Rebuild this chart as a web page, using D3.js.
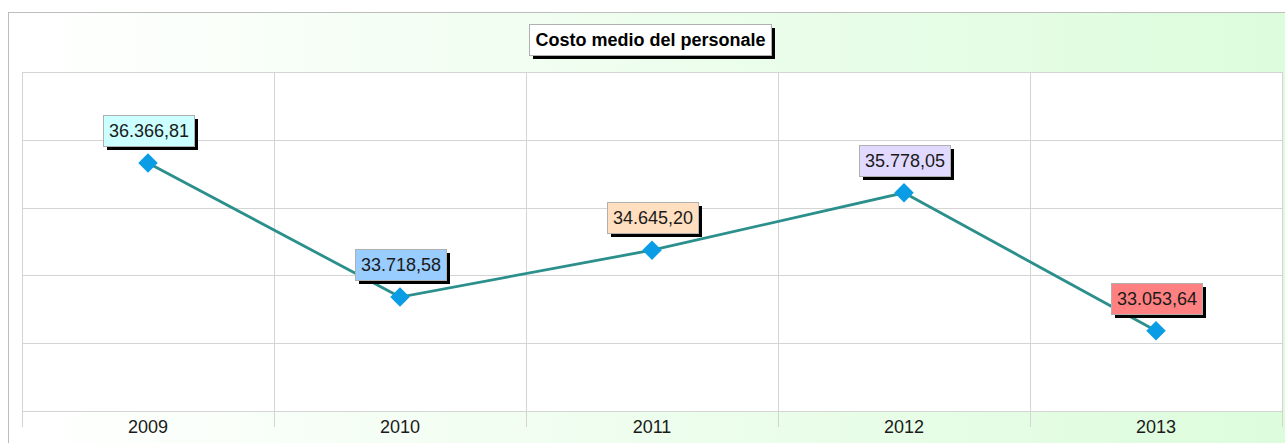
<!DOCTYPE html>
<html>
<head>
<meta charset="utf-8">
<script src="https://cdn.jsdelivr.net/npm/d3@7"></script>
<style>
  html, body { margin: 0; padding: 0; background: #fff; }
  svg { display: block; font-family: Arial, "Liberation Sans", sans-serif; }
</style>
</head>
<body>
<svg id="chart_svg" width="1285" height="443"></svg>
<script>
// chart data
const title = 'Costo medio del personale';
const years = ['2009', '2010', '2011', '2012', '2013'];
const costs = [36366.81, 33718.58, 34645.20, 35778.05, 33053.64];
const value_labels = ['36.366,81', '33.718,58', '34.645,20', '35.778,05', '33.053,64'];
const label_colors = ['#ccffff', '#99ccff', '#ffdfc0', '#e2d9ff', '#ff8080'];
const y_domain = [31466, 38166];

const width = 1285;
const height = 443;

/**
 * Plot area
 */
const plot = { left: 22, right: 1282, top: 72, bottom: 411 };

let svg = d3.select('#chart_svg');

let defs = svg.append('defs');
let grad = defs.append('linearGradient')
  .attr('id', 'bg_grad')
  .attr('x1', '0%').attr('x2', '100%')
  .attr('y1', '0%').attr('y2', '0%');
grad.append('stop').attr('offset', '0%').attr('stop-color', '#ffffff');
grad.append('stop').attr('offset', '100%').attr('stop-color', '#dcfcdc');

// outer background + border
svg.append('rect')
  .attr('x', 8.5).attr('y', 12.5)
  .attr('width', width + 10).attr('height', height)
  .attr('fill', 'url(#bg_grad)')
  .attr('stroke', '#bdbdbd');

/**
 * Scales
 */
const xScale = d3.scaleBand()
  .domain(years)
  .range([plot.left, plot.right]);

const yScale = d3.scaleLinear()
  .domain(y_domain)
  .range([plot.bottom, plot.top]);

// plot background
svg.append('rect')
  .attr('x', plot.left + 0.5).attr('y', plot.top + 0.5)
  .attr('width', plot.right - plot.left).attr('height', plot.bottom - plot.top)
  .attr('fill', '#ffffff')
  .attr('stroke', '#cccccc');

/**
 * Grid lines
 */
let grid_vals = d3.range(6).map((i) => y_domain[0] + i * (y_domain[1] - y_domain[0]) / 5);

svg.append('g')
  .selectAll('line')
  .data(grid_vals)
  .enter()
  .append('line')
  .attr('x1', plot.left)
  .attr('x2', plot.right)
  .attr('y1', (d) => Math.round(yScale(d)) + 0.5)
  .attr('y2', (d) => Math.round(yScale(d)) + 0.5)
  .attr('stroke', '#d4d4d4');

let band_edges = years.map((d) => xScale(d)).concat([plot.right]);

svg.append('g')
  .selectAll('line')
  .data(band_edges)
  .enter()
  .append('line')
  .attr('x1', (d) => Math.round(d) + 0.5)
  .attr('x2', (d) => Math.round(d) + 0.5)
  .attr('y1', plot.top)
  .attr('y2', plot.bottom + 16)
  .attr('stroke', '#d4d4d4');

/**
 * x labels
 */
svg.append('g')
  .selectAll('text')
  .data(years)
  .enter()
  .append('text')
  .attr('x', (d) => xScale(d) + xScale.bandwidth() / 2)
  .attr('y', 433)
  .attr('text-anchor', 'middle')
  .attr('font-size', 18)
  .attr('fill', '#1a1a1a')
  .text((d) => d);

/**
 * Line + markers
 */
const points = years.map((d, i) => ({
  year: d,
  value: costs[i],
  label: value_labels[i],
  color: label_colors[i],
  x: xScale(d) + xScale.bandwidth() / 2,
  y: yScale(costs[i]),
}));

let line = d3.line()
  .x((d) => d.x)
  .y((d) => d.y);

svg.append('path')
  .datum(points)
  .attr('d', line)
  .attr('fill', 'none')
  .attr('stroke', '#2b8f8c')
  .attr('stroke-width', 2.8);

svg.append('g')
  .selectAll('path')
  .data(points)
  .enter()
  .append('path')
  .attr('d', d3.symbol(d3.symbolSquare, 190))
  .attr('transform', (d) => `translate(${d.x},${d.y}) rotate(45)`)
  .attr('fill', '#0a9de6');

/**
 * Value labels
 */
const box_w = 91;
const box_h = 31;

let label_g = svg.append('g')
  .selectAll('g')
  .data(points)
  .enter()
  .append('g')
  .attr('transform', (d) => `translate(${Math.round(d.x - box_w / 2)},${Math.round(d.y - 48)})`);

label_g.append('rect')
  .attr('x', 4).attr('y', 4)
  .attr('width', box_w).attr('height', box_h)
  .attr('fill', '#000');

label_g.append('rect')
  .attr('x', 0.5).attr('y', 0.5)
  .attr('width', box_w).attr('height', box_h)
  .attr('fill', (d) => d.color)
  .attr('stroke', '#b0b0b0');

label_g.append('text')
  .attr('x', box_w / 2 + 0.5)
  .attr('y', 22)
  .attr('text-anchor', 'middle')
  .attr('font-size', 18)
  .attr('fill', '#1a1a1a')
  .text((d) => d.label);

/**
 * Title
 */
let title_g = svg.append('g').attr('transform', 'translate(529,24)');

title_g.append('rect')
  .attr('x', 4).attr('y', 4)
  .attr('width', 242).attr('height', 31)
  .attr('fill', '#000');

title_g.append('rect')
  .attr('x', 0.5).attr('y', 0.5)
  .attr('width', 242).attr('height', 31)
  .attr('fill', '#fff')
  .attr('stroke', '#b0b0b0');

title_g.append('text')
  .attr('x', 121.5)
  .attr('y', 22)
  .attr('text-anchor', 'middle')
  .attr('font-size', 18)
  .attr('font-weight', 'bold')
  .attr('fill', '#000')
  .text(title);
</script>
</body>
</html>
